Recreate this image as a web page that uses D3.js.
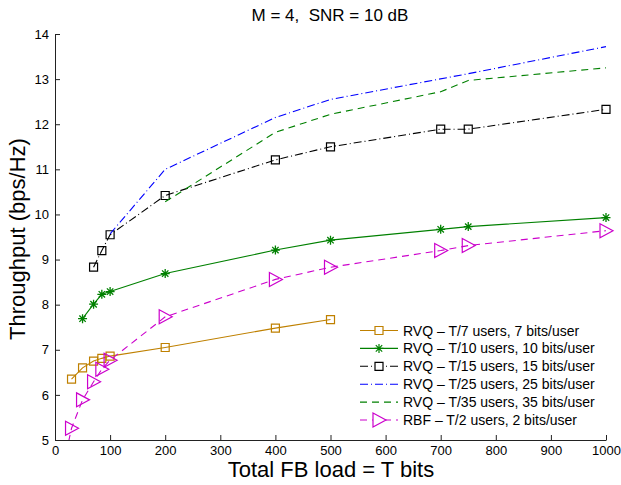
<!DOCTYPE html>
<html>
<head>
<meta charset="utf-8">
<script src="https://cdn.jsdelivr.net/npm/d3@7"></script>
<style>
  body { margin: 0; background: #fff; }
  svg { font-family: "Liberation Sans", Arial, Helvetica, sans-serif; }
  .axis path, .axis line { stroke: #222; }
  .axis text { font-size: 13px; fill: #000; }
</style>
</head>
<body>
<div id="chart"></div>
<script>
// values
var xT7  = [30, 50, 70, 85, 100, 200, 400, 500];
var yT7  = [6.35, 6.6, 6.75, 6.81, 6.86, 7.05, 7.48, 7.67];

var xT10 = [50, 70, 85, 100, 200, 400, 500, 700, 750, 1000];
var yT10 = [7.69, 8.01, 8.23, 8.29, 8.69, 9.21, 9.43, 9.67, 9.73, 9.93];

var xT15 = [70, 85, 100, 200, 400, 500, 700, 750, 1000];
var yT15 = [8.83, 9.2, 9.55, 10.42, 11.21, 11.5, 11.89, 11.89, 12.33];

var xT25 = [100, 200, 400, 500, 750, 1000];
var yT25 = [9.57, 11.0, 12.15, 12.55, 13.12, 13.72];

var xT35 = [200, 400, 500, 700, 750, 1000];
var yT35 = [10.28, 11.82, 12.22, 12.72, 12.97, 13.25];

var xRBF = [20, 30, 50, 70, 85, 100, 200, 400, 500, 700, 750, 1000];
var yRBF = [4.7, 5.26, 5.89, 6.29, 6.57, 6.77, 7.73, 8.56, 8.83, 9.2, 9.31, 9.64];

var xTicks = [0, 100, 200, 300, 400, 500, 600, 700, 800, 900, 1000];
var yTicks = [5, 6, 7, 8, 9, 10, 11, 12, 13, 14];

var series = [
  {name: "RVQ \u2013 T/7 users, 7 bits/user",   xs: xT7,  ys: yT7,  color: "#bf8000", dash: null,      marker: "square"},
  {name: "RVQ \u2013 T/10 users, 10 bits/user", xs: xT10, ys: yT10, color: "#008000", dash: null,      marker: "star"},
  {name: "RVQ \u2013 T/15 users, 15 bits/user", xs: xT15, ys: yT15, color: "#000000", dash: "8,3,1,3", marker: "square"},
  {name: "RVQ \u2013 T/25 users, 25 bits/user", xs: xT25, ys: yT25, color: "#0000ff", dash: "8,3,1,3", marker: null},
  {name: "RVQ \u2013 T/35 users, 35 bits/user", xs: xT35, ys: yT35, color: "#008000", dash: "7,5",     marker: null},
  {name: "RBF \u2013 T/2 users, 2 bits/user",   xs: xRBF, ys: yRBF, color: "#cc00cc", dash: "7,5",     marker: "tri"}
];

var W = 621, H = 485;
var x = d3.scaleLinear().domain([0, 1000]).range([55, 606]);
var y = d3.scaleLinear().domain([5, 14]).range([440, 34]);

var svg = d3.select("#chart").append("svg")
    .attr("width", W)
    .attr("height", H);

svg.append("defs").append("clipPath")
    .attr("id", "plotclip")
  .append("rect")
    .attr("x", x(0)).attr("y", y(14))
    .attr("width", x(1000) - x(0))
    .attr("height", y(5) - y(14));

// axes, ticks pointing inward, no box
svg.append("g")
    .attr("class", "axis")
    .attr("transform", "translate(0," + y(5) + ")")
    .call(d3.axisBottom(x).tickValues(xTicks).tickFormat(d3.format("d"))
      .tickSizeInner(-5).tickSizeOuter(0).tickPadding(6));

svg.append("g")
    .attr("class", "axis")
    .attr("transform", "translate(" + x(0) + ",0)")
    .call(d3.axisLeft(y).tickValues(yTicks).tickFormat(d3.format("d"))
      .tickSizeInner(-5).tickSizeOuter(0).tickPadding(6));

function markerPath(type) {
  if (type == "square") return "M-4,-4H4V4H-4Z";
  if (type == "tri") return "M-6,-7L7,0L-6,7Z";
  if (type == "star") return "M-4.5,0H4.5M0,-4.5V4.5M-3.2,-3.2L3.2,3.2M-3.2,3.2L3.2,-3.2";
  return null;
}

var line = d3.line()
    .x(function(d) { return x(d[0]); })
    .y(function(d) { return y(d[1]); });

series.forEach(function(s) {
  var pts = s.xs.map(function(v, i) { return [v, s.ys[i]]; });
  svg.append("path")
      .datum(pts)
      .attr("clip-path", "url(#plotclip)")
      .attr("fill", "none")
      .attr("stroke", s.color)
      .attr("stroke-width", 1.1)
      .attr("stroke-dasharray", s.dash)
      .attr("d", line);

  if (s.marker) {
    svg.append("g").selectAll("path")
      .data(pts.filter(function(d) { return d[1] >= 5; }))
      .enter().append("path")
        .attr("transform", function(d) { return "translate(" + x(d[0]) + "," + y(d[1]) + ")"; })
        .attr("d", markerPath(s.marker))
        .attr("fill", "none")
        .attr("stroke", s.color)
        .attr("stroke-width", s.marker == "star" ? 1.3 : 1.2);
  }
});

// legend
var legend = svg.append("g")
  .selectAll("g")
  .data(series)
  .enter().append("g")
    .attr("transform", function(d, i) { return "translate(360," + (330.5 + i * 17.9) + ")"; });

legend.append("line")
    .attr("x1", 0).attr("x2", 38)
    .attr("stroke", function(d) { return d.color; })
    .attr("stroke-width", 1.1)
    .attr("stroke-dasharray", function(d) { return d.dash; });

legend.filter(function(d) { return d.marker; }).append("path")
    .attr("transform", "translate(19,0)")
    .attr("d", function(d) { return markerPath(d.marker); })
    .attr("fill", "#fff")
    .attr("stroke", function(d) { return d.color; })
    .attr("stroke-width", 1.2);

legend.append("text")
    .attr("x", 43)
    .attr("dy", "0.36em")
    .style("font-size", "14px")
    .text(function(d) { return d.name; });

// title and labels
svg.append("text")
    .attr("x", 330).attr("y", 21)
    .attr("text-anchor", "middle")
    .style("font-size", "17px")
    .style("white-space", "pre")
    .text("M = 4,  SNR = 10 dB");

svg.append("text")
    .attr("x", 331).attr("y", 477)
    .attr("text-anchor", "middle")
    .style("font-size", "22px")
    .text("Total FB load = T bits");

svg.append("text")
    .attr("transform", "translate(25,239) rotate(-90)")
    .attr("text-anchor", "middle")
    .style("font-size", "22px")
    .text("Throughput (bps/Hz)");
</script>
</body>
</html>
